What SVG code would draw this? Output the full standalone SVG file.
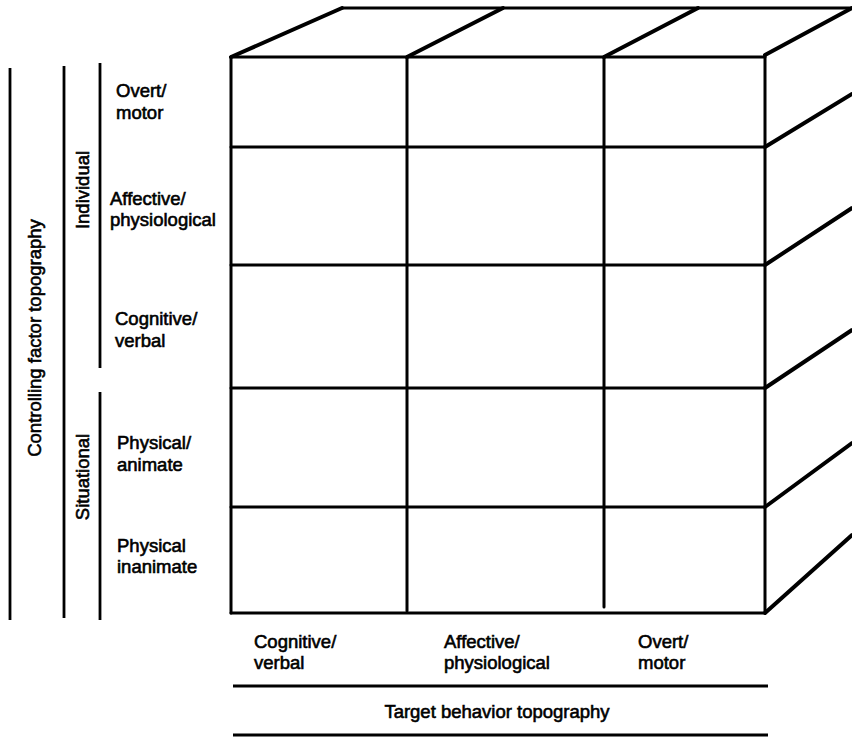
<svg xmlns="http://www.w3.org/2000/svg" width="852" height="738" viewBox="0 0 852 738">
<style>
.t{font-family:"Liberation Sans",Arial,Helvetica,sans-serif;font-size:18.5px;fill:#000;stroke:#000;stroke-width:0.6}
.ln{stroke:#000;stroke-width:3;fill:none;stroke-linecap:round}
.thick{stroke:#000;stroke-width:4;fill:none;stroke-linecap:round}
.bar{stroke:#000;stroke-width:2.8;fill:none}
</style>
<rect width="852" height="738" fill="#fff"/>
<g id="cube">
  <g id="front-face">
    <line class="ln" x1="231" y1="57" x2="765" y2="57"/>
    <line class="ln" x1="231" y1="147" x2="765" y2="147"/>
    <line class="ln" x1="231" y1="265" x2="765" y2="265"/>
    <line class="ln" x1="231" y1="388" x2="765" y2="388"/>
    <line class="ln" x1="231" y1="507" x2="765" y2="507"/>
    <line class="ln" x1="231" y1="613" x2="765" y2="613"/>
    <line class="ln" x1="231" y1="57" x2="231" y2="613"/>
    <line class="ln" x1="407" y1="57" x2="407" y2="611"/>
    <line class="ln" x1="604" y1="57" x2="604" y2="607"/>
    <line class="ln" x1="765" y1="55" x2="765" y2="613"/>
  </g>
  <g id="top-face">
    <line class="ln" x1="342" y1="8" x2="852" y2="8"/>
    <line class="thick" x1="231" y1="57" x2="342" y2="8"/>
    <line class="thick" x1="407" y1="57" x2="503" y2="8"/>
    <line class="thick" x1="604" y1="57" x2="698" y2="8"/>
    <line class="thick" x1="765" y1="55" x2="852" y2="8"/>
  </g>
  <g id="right-face">
    <line class="thick" x1="765" y1="147" x2="852" y2="94"/>
    <line class="thick" x1="765" y1="265" x2="852" y2="208"/>
    <line class="thick" x1="765" y1="388" x2="852" y2="330"/>
    <line class="thick" x1="765" y1="507" x2="852" y2="443"/>
    <line class="thick" x1="765" y1="613" x2="852" y2="535"/>
  </g>
</g>
<g id="row-labels">
  <g id="row-overt"><text class="t" x="116" y="97">Overt/</text><text class="t" x="116" y="119">motor</text></g>
  <g id="row-affective"><text class="t" x="110" y="205">Affective/</text><text class="t" x="110" y="226">physiological</text></g>
  <g id="row-cognitive"><text class="t" x="115" y="325">Cognitive/</text><text class="t" x="115" y="347">verbal</text></g>
  <g id="row-animate"><text class="t" x="117" y="449">Physical/</text><text class="t" x="117" y="471">animate</text></g>
  <g id="row-inanimate"><text class="t" x="117" y="552">Physical</text><text class="t" x="117" y="573">inanimate</text></g>
</g>
<g id="left-axis">
  <line class="bar" x1="10" y1="68" x2="10" y2="620"/>
  <line class="bar" x1="64" y1="66" x2="64" y2="618"/>
  <line class="bar" x1="100" y1="63" x2="100" y2="368"/>
  <line class="bar" x1="100" y1="392" x2="100" y2="620"/>
  <text class="t" transform="translate(41,338) rotate(-90)" text-anchor="middle">Controlling factor topography</text>
  <text class="t" transform="translate(89,190) rotate(-90)" text-anchor="middle">Individual</text>
  <text class="t" transform="translate(89,477) rotate(-90)" text-anchor="middle">Situational</text>
</g>
<g id="column-labels">
  <g id="col-cognitive"><text class="t" x="254" y="648">Cognitive/</text><text class="t" x="254" y="669">verbal</text></g>
  <g id="col-affective"><text class="t" x="444" y="648">Affective/</text><text class="t" x="444" y="669">physiological</text></g>
  <g id="col-overt"><text class="t" x="638" y="648">Overt/</text><text class="t" x="638" y="669">motor</text></g>
</g>
<g id="bottom-axis">
  <line class="bar" x1="233" y1="686" x2="768" y2="686"/>
  <line class="bar" x1="233" y1="735" x2="768" y2="735"/>
  <text class="t" x="497" y="718" text-anchor="middle">Target behavior topography</text>
</g>
</svg>
